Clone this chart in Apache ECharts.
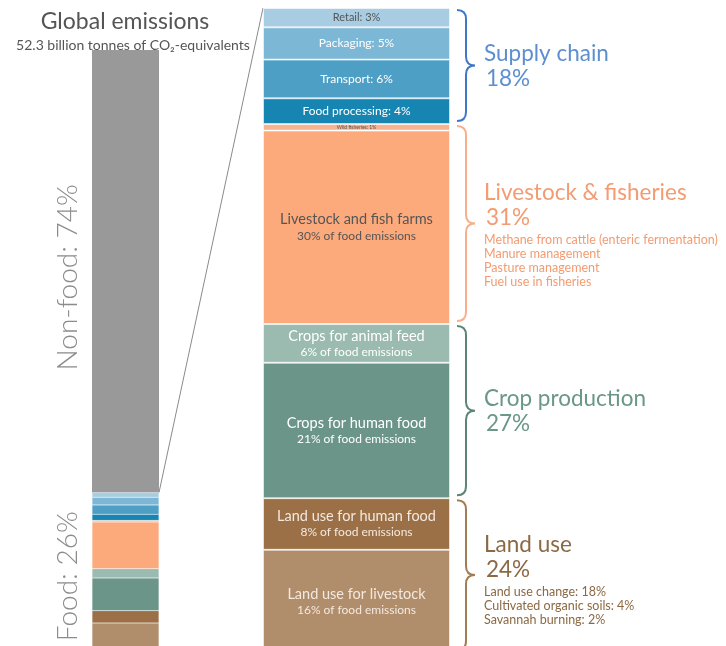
<!DOCTYPE html>
<html>
<head>
<meta charset="utf-8">
<script src="https://cdn.jsdelivr.net/npm/echarts@6/dist/echarts.min.js"></script>
<style>
  html, body { margin: 0; padding: 0; background: #fff; }
  #chart { width: 726px; height: 646px; }
</style>
</head>
<body>
<div id="chart"></div>
<script>
// Global split of greenhouse-gas emissions (percent of total)
const globalSplit = ['Non-food', 'Food'];
const globalShare = [74, 26];

// Food-system stages (percent of food emissions), top to bottom
const stageNames = [
  'Retail', 'Packaging', 'Transport', 'Food processing', 'Wild fisheries',
  'Livestock and fish farms', 'Crops for animal feed', 'Crops for human food',
  'Land use for human food', 'Land use for livestock'
];
const stageShare = [3, 5, 6, 4, 1, 30, 6, 21, 8, 16];
const stageGroup = [0, 0, 0, 0, 1, 1, 2, 2, 3, 3];

// Stage groups shown with braces on the right
const groupNames = ['Supply chain', 'Livestock & fisheries', 'Crop production', 'Land use'];
const groupShare = [18, 31, 27, 24];
const groupDetails = [
  [],
  ['Methane from cattle (enteric fermentation)', 'Manure management', 'Pasture management', 'Fuel use in fisheries'],
  [],
  ['Land use change: 18%', 'Cultivated organic soils: 4%', 'Savannah burning: 2%']
];

// ---- styling ----
const FONT = 'Lato, "Open Sans", sans-serif';
const stageColors = ['#a8cde2', '#7db7d6', '#4d9fc6', '#1785b2', '#f6b38f',
  '#fca97c', '#9bbbb0', '#6a9588', '#9b7047', '#b08d6b'];
const stageTextColors = ['#555', '#fff', '#fff', '#fff', '#555',
  '#555', '#fff', '#fff', '#f3e9df', '#f3e9df'];
const groupTextColors = ['#5d8fd0', '#f39b72', '#6a9788', '#8c6944'];
const groupBraceColors = ['#3f78c6', '#f7b08b', '#5c8577', '#a27c52'];
const nonFoodColor = '#999999';

const LEFT_GRID = { left: 92, top: 50, width: 67, height: 598 };
const RIGHT_GRID = { left: 263, top: 8, width: 187, height: 645 };

const chart = echarts.init(document.getElementById('chart'));

// Left bar: non-food block followed by the food stages scaled to the food share
const foodFactor = globalShare[1] / 100;
const leftSeries = [{
  type: 'bar', name: globalSplit[0], stack: 'global',
  xAxisIndex: 0, yAxisIndex: 0, barWidth: '100%',
  data: [globalShare[0]],
  itemStyle: { color: nonFoodColor },
  silent: true
}].concat(stageNames.map((name, i) => ({
  type: 'bar', name: name + ' (global)', stack: 'global',
  xAxisIndex: 0, yAxisIndex: 0, barWidth: '100%',
  data: [stageShare[i] * foodFactor],
  itemStyle: { color: stageColors[i], borderColor: 'rgba(255,255,255,0.35)', borderWidth: 0.5 },
  silent: true
})));

// Right bar: food stages with inside labels
const rightSeries = stageNames.map((name, i) => {
  const single = stageGroup[i] === 0 || stageShare[i] < 2;
  const tiny = stageShare[i] < 2;
  return {
    type: 'bar', name, stack: 'food',
    xAxisIndex: 1, yAxisIndex: 1, barWidth: '100%',
    data: [stageShare[i]],
    itemStyle: { color: stageColors[i], borderColor: 'rgba(255,255,255,0.55)', borderWidth: 1 },
    silent: true,
    label: {
      show: true, position: 'inside',
      fontFamily: FONT, color: stageTextColors[i],
      fontSize: tiny ? 5 : (i === 0 ? 11 : 12),
      formatter: single
        ? name + ': ' + stageShare[i] + '%'
        : '{a|' + name + '}\n{b|' + stageShare[i] + '% of food emissions}',
      rich: {
        a: { fontFamily: FONT, fontSize: 14.5, lineHeight: 17, color: stageTextColors[i] },
        b: { fontFamily: FONT, fontSize: 12, lineHeight: 15, color: stageTextColors[i] }
      }
    }
  };
});

// Cumulative ranges of the groups and of the global split
let acc = 0;
const groupRanges = groupShare.map((v, i) => { const r = [0, acc, acc + v, i]; acc += v; return r; });
let acc2 = 0;
const splitRanges = globalShare.map((v, i) => { const r = [0, acc2, acc2 + v, i]; acc2 += v; return r; });

// Curly braces with group names, totals and notes
const braceSeries = {
  type: 'custom', xAxisIndex: 1, yAxisIndex: 1, silent: true, clip: false,
  data: groupRanges,
  renderItem(params, api) {
    const gi = api.value(3);
    const yA = api.coord([0, api.value(1)])[1];
    const yB = api.coord([0, api.value(2)])[1];
    const band = api.size([1, 0])[0];
    const xR = api.coord([0, 0])[0] + band / 2;
    const top = yA + 2, bot = yB - 3, mid = (top + bot) / 2;
    const x0 = xR + 7, r = 9, tip = 9, ry = 9;
    const xa = x0 + r;
    const d = `M${x0} ${top} Q${xa} ${top} ${xa} ${top + ry} L${xa} ${mid - ry} ` +
      `Q${xa} ${mid} ${xa + tip} ${mid} Q${xa} ${mid} ${xa} ${mid + ry} ` +
      `L${xa} ${bot - ry} Q${xa} ${bot} ${x0} ${bot}`;
    const details = groupDetails[gi];
    const tx = x0 + 27;
    const shift = details.length ? -18 : 1;
    const nameY = mid + shift - 12.5;
    const pctY = mid + shift + 12.5;
    const children = [
      { type: 'path', shape: { pathData: d },
        style: { stroke: groupBraceColors[gi], lineWidth: 2, fill: null } },
      { type: 'text', x: tx, y: nameY,
        style: { text: groupNames[gi], fill: groupTextColors[gi], fontSize: 22.5, fontFamily: FONT,
          align: 'left', verticalAlign: 'middle' } },
      { type: 'text', x: tx + 2, y: pctY,
        style: { text: groupShare[gi] + '%', fill: groupTextColors[gi], fontSize: 22.5, fontFamily: FONT,
          align: 'left', verticalAlign: 'middle' } }
    ];
    details.forEach((t, k) => {
      children.push({ type: 'text', x: tx, y: pctY + 22 + k * 14,
        style: { text: t, fill: groupTextColors[gi], fontSize: 12.5, fontFamily: FONT,
          align: 'left', verticalAlign: 'middle' } });
    });
    return { type: 'group', children };
  }
};

// Vertical "Non-food" / "Food" captions beside the global bar
const splitLabelSeries = {
  type: 'custom', xAxisIndex: 0, yAxisIndex: 0, silent: true, clip: false,
  data: splitRanges,
  renderItem(params, api) {
    const i = api.value(3);
    const yA = api.coord([0, api.value(1)])[1];
    const yB = api.coord([0, api.value(2)])[1];
    const band = api.size([1, 0])[0];
    const xL = api.coord([0, 0])[0] - band / 2;
    return {
      type: 'text', x: xL - 24, y: (yA + yB) / 2 + 6, rotation: Math.PI / 2,
      style: { text: globalSplit[i] + ': ' + globalShare[i] + '%', fill: '#8c8c8c',
        fontSize: 28, fontFamily: FONT, fontWeight: 300, align: 'center', verticalAlign: 'middle' }
    };
  }
};

chart.setOption({
  animation: false,
  title: [
    { text: 'Global emissions', left: 120, top: 5, textAlign: 'center',
      textStyle: { fontFamily: FONT, fontSize: 23, fontWeight: 'normal', color: '#555' } },
    { text: '52.3 billion tonnes of CO₂-equivalents', left: 128, top: 33, textAlign: 'center',
      textStyle: { fontFamily: FONT, fontSize: 14, fontWeight: 'normal', color: '#555' } }
  ],
  grid: [
    Object.assign({ containLabel: false, outerBoundsMode: 'none' }, LEFT_GRID),
    Object.assign({ containLabel: false, outerBoundsMode: 'none' }, RIGHT_GRID)
  ],
  xAxis: [
    { type: 'category', gridIndex: 0, data: ['Global'], show: false },
    { type: 'category', gridIndex: 1, data: ['Food'], show: false }
  ],
  yAxis: [
    { type: 'value', gridIndex: 0, inverse: true, min: 0, max: 100, show: false },
    { type: 'value', gridIndex: 1, inverse: true, min: 0, max: 100, show: false }
  ],
  series: leftSeries.concat(rightSeries, [braceSeries, splitLabelSeries])
});

// Connector from the top of the food block to the top of the breakdown bar
const pFood = chart.convertToPixel({ xAxisIndex: 0, yAxisIndex: 0 }, [0, globalShare[0]]);
const pTop = chart.convertToPixel({ xAxisIndex: 1, yAxisIndex: 1 }, [0, 0]);
chart.setOption({
  graphic: [{
    type: 'line', silent: true,
    shape: { x1: LEFT_GRID.left + LEFT_GRID.width, y1: pFood[1], x2: RIGHT_GRID.left, y2: pTop[1] },
    style: { stroke: '#8a8a8a', lineWidth: 1 }
  }]
});
</script>
</body>
</html>
